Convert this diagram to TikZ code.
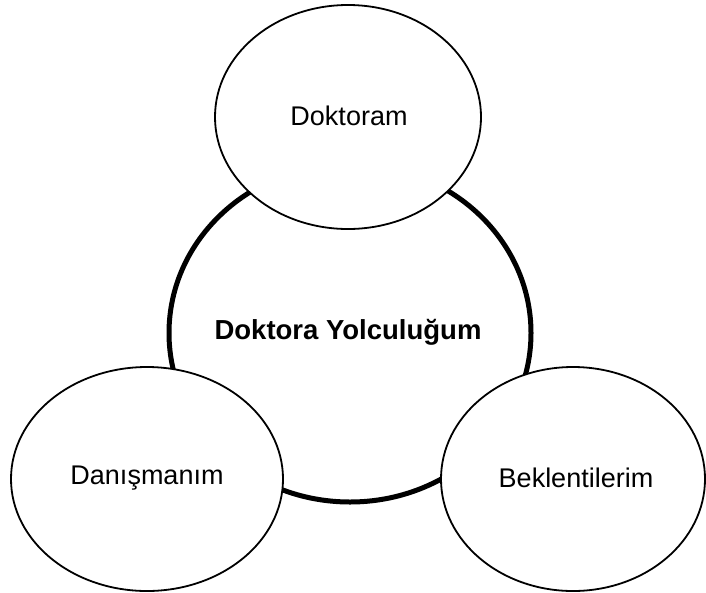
\documentclass[tikz,border=0pt]{standalone}
\usepackage{fontspec}
\setmainfont{Liberation Sans}
\usetikzlibrary{shapes.geometric}
\tikzset{
  hub/.style={ellipse, draw=black, line width=5pt, minimum width=362pt, minimum height=338pt, inner sep=0pt},
  petal/.style={ellipse, draw=black, line width=1.8pt, fill=white, inner sep=0pt},
  hubtext/.style={font=\fontsize{27.5}{32}\selectfont\bfseries},
  petaltext/.style={font=\fontsize{27}{32}\selectfont}
}
\begin{document}
\begin{tikzpicture}[x=1pt, y=-1pt]
  \useasboundingbox[fill=white] (0,0) rectangle (706,592);
  % central circle
  \node[hub] (hub) at (350,333) {};
  \node[hubtext] (title) at (348,332) {Doktora Yolculuğum};
  % surrounding ellipses
  \node[petal, minimum width=266pt, minimum height=224pt] (top) at (348,117) {};
  \node[petaltext] (toptext) at (349,116) {Doktoram};
  \node[petal, minimum width=272pt, minimum height=224pt] (left) at (147,479) {};
  \node[petaltext] (lefttext) at (147,478) {Danışmanım};
  \node[petal, minimum width=264pt, minimum height=224pt] (right) at (573,479) {};
  \node[petaltext] (righttext) at (576,478) {Beklentilerim};
\end{tikzpicture}
\end{document}
